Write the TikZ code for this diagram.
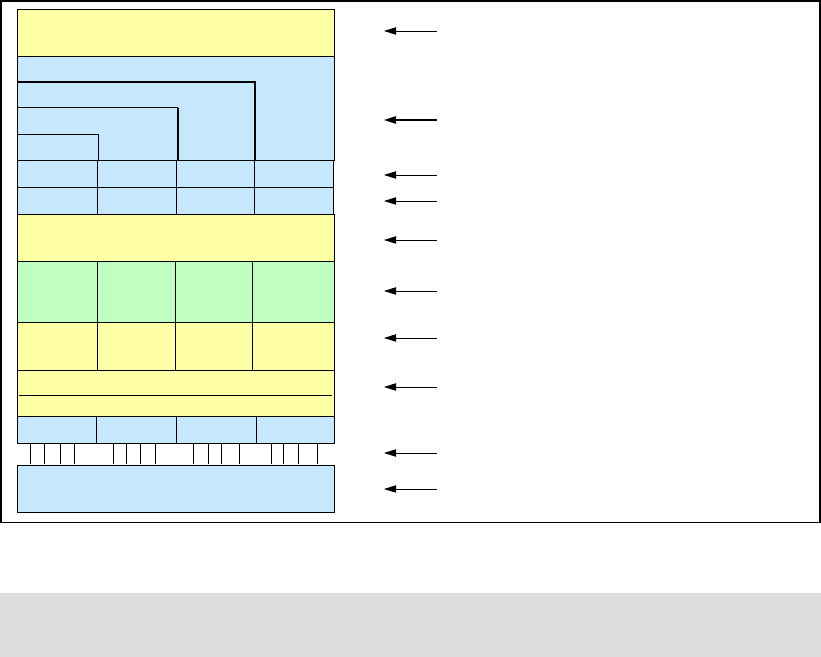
\documentclass[tikz,border=0pt]{standalone}
\usepackage{xcolor}
\usepackage{tikz}
\usetikzlibrary{arrows.meta}

\definecolor{layeryellow}{RGB}{255,255,166}
\definecolor{layerblue}{RGB}{197,232,252}
\definecolor{layergreen}{RGB}{191,255,191}
\definecolor{bandgray}{RGB}{221,221,221}

\tikzset{
    yelbox/.style={draw=black, line width=0.8pt, fill=layeryellow},
    bluebox/.style={draw=black, line width=0.8pt, fill=layerblue},
    grnbox/.style={draw=black, line width=0.8pt, fill=layergreen},
    sep/.style={draw=black, line width=0.8pt},
    larrow/.style={line width=0.7pt, -{Triangle[length=3.6mm, width=2.2mm]}}
}

\begin{document}
\begin{tikzpicture}[x=0.03cm, y=-0.03cm]
    \useasboundingbox (0,0) rectangle (821,657);

    % Frame and grey band
    \draw[line width=0.9pt] (1,1) rectangle (820,522.5);
    \fill[bandgray] (0,593) rectangle (821,657);

    % Top layer
    \draw[yelbox] (17.3,9.3) rectangle (334.3,56.7);

    % Nested blue area
    \draw[bluebox] (17.3,56.7) rectangle (334.3,160.3);
    \draw[line width=1.4pt] (17.3,81.7) -- (255.3,81.7) -- (255.3,160.3);
    \draw[sep] (17.3,107.7) -- (178.3,107.7);
    \draw[line width=1.4pt] (178.3,107.7) -- (178.3,160.3);
    \draw[sep] (17.3,134.7) -- (98.7,134.7) -- (98.7,160.3);

    % Two rows of four
    \foreach \ya/\yb in {160.3/187.3, 187.3/214.3}
        \foreach \xa/\xb in {17.3/97.3, 97.3/176.3, 176.3/254.3, 254.3/333.3}
            \draw[bluebox] (\xa,\ya) rectangle (\xb,\yb);

    % Middle layer
    \draw[yelbox] (17.3,214.3) rectangle (334.3,261.3);

    % Green row and yellow row
    \foreach \xa/\xb in {17.3/97.3, 97.3/175.7, 175.7/252, 252/334.3} {
        \draw[grnbox] (\xa,261.3) rectangle (\xb,322.3);
        \draw[yelbox] (\xa,322.3) rectangle (\xb,370.3);
    }

    % Lower yellow layer
    \draw[yelbox] (17.3,370.3) rectangle (334.3,416.7);
    \draw[sep] (19,395.3) -- (332.3,395.3);

    % Blue row of four
    \foreach \xa/\xb in {17.3/96.7, 96.7/176.7, 176.7/256.7, 256.7/334.3}
        \draw[bluebox] (\xa,416.7) rectangle (\xb,443.3);

    % Tick row
    \foreach \x in {30.7, 44.3, 60, 74.3, 113.7, 126.7, 140.7, 155.7,
                    193.7, 208.3, 221.7, 239.3, 271.7, 283.7, 298.7, 317.7}
        \draw[sep] (\x,443.3) -- (\x,464.3);

    % Bottom layer
    \draw[bluebox] (17.3,465) rectangle (334.3,512.3);

    % Arrows
    \foreach \n/\y in {1/31, 2/120, 3/175, 4/201, 5/240, 6/291, 7/338, 8/387, 9/453, 10/489} {
        \coordinate (tail\n) at (437,\y);
        \coordinate (head\n) at (384,\y);
    }
    \foreach \n in {1,3,4,5,6,7,8,9,10}
        \draw[larrow] (tail\n) -- (head\n);
    \draw[larrow, line width=1.4pt] (tail2) -- (head2);
\end{tikzpicture}
\end{document}
